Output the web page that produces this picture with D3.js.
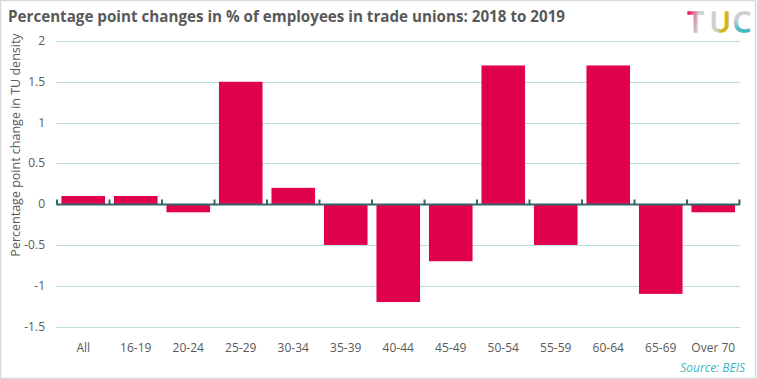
<!DOCTYPE html>
<html><head><meta charset="utf-8">
<script src="https://cdn.jsdelivr.net/npm/d3@7"></script>
<style>body{margin:0;background:#fff}svg{display:block}text{font-family:"Open Sans","Segoe UI",sans-serif}</style>
</head><body>
<svg id="c" width="757" height="379"></svg>
<script>
const categories = ["All","16-19","20-24","25-29","30-34","35-39","40-44","45-49","50-54","55-59","60-64","65-69","Over 70"];
const values = [0.1,0.1,-0.1,1.5,0.2,-0.5,-1.2,-0.7,1.7,-0.5,1.7,-1.1,-0.1];
const yTicks = [2,1.5,1,0.5,0,-0.5,-1,-1.5];
const title = "Percentage point changes in % of employees in trade unions: 2018 to 2019";
const yTitle = "Percentage point change in TU density";
const source = "Source:  BEIS";
const logoLetters = ["T","U","C"];

const svg = d3.select("#c");
const W = 757, H = 379;
svg.append("rect").attr("x",0.5).attr("y",0.5).attr("width",W-2).attr("height",H-1)
  .attr("fill","#fff").attr("stroke","#d9d9d9").attr("stroke-width",1.5);

const x = d3.scaleBand().domain(categories).range([57,739.5]).paddingInner(0.17).paddingOuter(0.085);
const y = d3.scaleLinear().domain([-1.5,2]).range([326.5,41]);

// gridlines
svg.append("g").selectAll("line").data(yTicks).join("line")
  .attr("x1",56).attr("x2",740).attr("y1",d=>Math.round(y(d))+0.5).attr("y2",d=>Math.round(y(d))+0.5)
  .attr("stroke","#b8dfe0").attr("stroke-width",1);

// y tick labels
svg.append("g").selectAll("text").data(yTicks).join("text")
  .attr("x",45).attr("y",d=>y(d)+4).attr("text-anchor","end")
  .attr("font-size",12).attr("fill","#595959").text(d=>d);

// bars
svg.append("g").selectAll("rect").data(values).join("rect")
  .attr("x",(d,i)=>x(categories[i])).attr("width",x.bandwidth())
  .attr("y",d=>y(Math.max(0,d))).attr("height",d=>Math.abs(y(d)-y(0)))
  .attr("fill","#e0004d");

// zero axis
const y0 = Math.round(y(0))+0.5;
svg.append("line").attr("x1",56.5).attr("x2",740).attr("y1",y0).attr("y2",y0)
  .attr("stroke","#336666").attr("stroke-width",2);
const r0 = x.range()[0], r1 = x.range()[1];
svg.append("g").selectAll("line").data(d3.range(categories.length+1)).join("line")
  .attr("x1",i=>r0 + i*(r1-r0)/categories.length)
  .attr("x2",i=>r0 + i*(r1-r0)/categories.length)
  .attr("y1",y0-5).attr("y2",y0)
  .attr("stroke","#336666").attr("stroke-width",2);

// x labels
svg.append("g").selectAll("text").data(categories).join("text")
  .attr("x",d=>x(d)+x.bandwidth()/2).attr("y",352).attr("text-anchor","middle")
  .attr("font-size",12).attr("fill","#595959").text(d=>d);

// y title
svg.append("text").attr("transform","translate(20,145) rotate(-90)").attr("text-anchor","middle")
  .attr("font-size",12.5).attr("fill","#595959").text(yTitle);

// title
svg.append("text").attr("x",8).attr("y",22).attr("font-size",16).attr("font-weight","bold")
  .attr("fill","#595959").attr("textLength",557).attr("lengthAdjust","spacingAndGlyphs").text(title);

// source
svg.append("text").attr("x",745).attr("y",372).attr("text-anchor","end").attr("font-size",12)
  .attr("font-style","italic").attr("fill","#3cb4c4").text(source);

// logo
const defs = svg.append("defs");
function grad(id,x1,y1,x2,y2,stops){
  const g = defs.append("linearGradient").attr("id",id).attr("x1",x1).attr("y1",y1).attr("x2",x2).attr("y2",y2);
  stops.forEach(s=>g.append("stop").attr("offset",s[0]).attr("stop-color",s[1]));
}
grad("gT","0","0","1","0.3",[[0,"#e5004f"],[0.45,"#e27a9a"],[0.7,"#cfcfcf"],[1,"#cfcfcf"]]);
grad("gU","0","0","1","0",[[0,"#cfcfcf"],[0.35,"#cfcfcf"],[0.55,"#d4b21a"],[1,"#d4b21a"]]);
grad("gC","0","0","0","1",[[0,"#cfcfcf"],[0.45,"#cfcfcf"],[0.75,"#42b8c4"],[1,"#42b8c4"]]);
const logoX = [688, 710, 733];
const logoG = ["url(#gT)","url(#gU)","url(#gC)"];
svg.append("g").selectAll("text").data(logoLetters).join("text")
  .attr("x",(d,i)=>logoX[i]).attr("y",32)
  .attr("font-size",28).attr("font-family","'DejaVu Sans',sans-serif")
  .attr("fill",(d,i)=>logoG[i]).attr("stroke",(d,i)=>logoG[i]).attr("stroke-width",1.6)
  .text(d=>d);
</script>
</body></html>
